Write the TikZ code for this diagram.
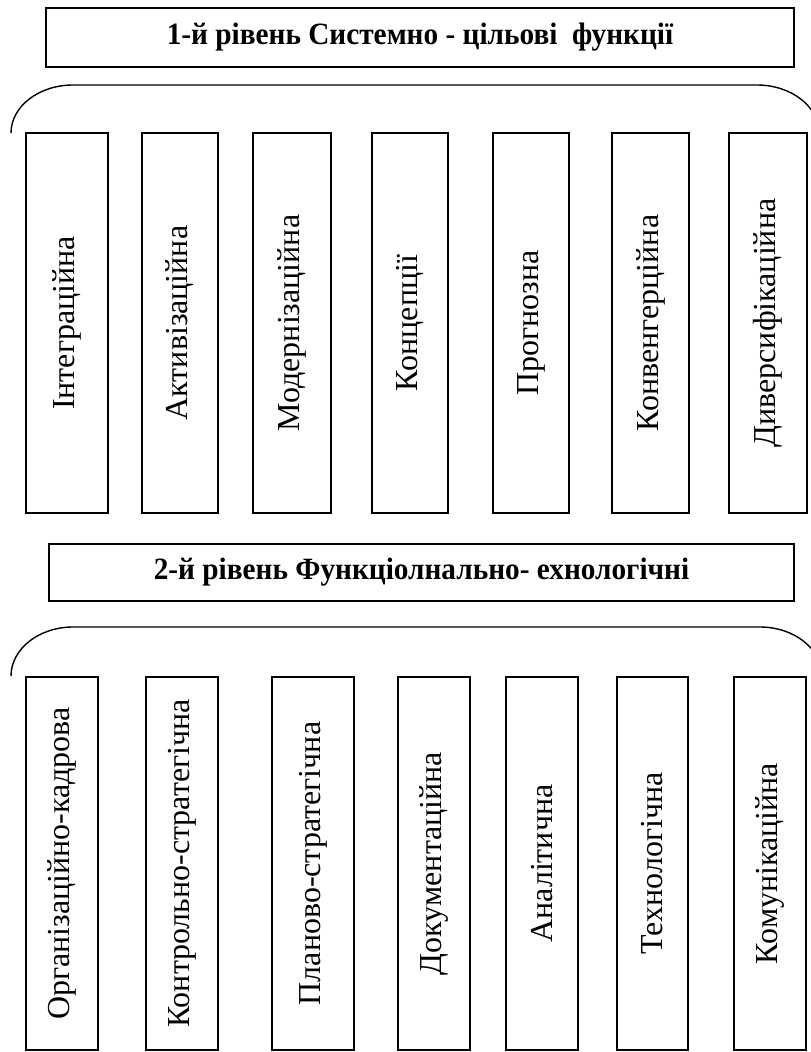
\documentclass[tikz,border=0pt]{standalone}
\usepackage{fontspec}
\setmainfont{Liberation Serif}
\usepackage{graphicx}
\usetikzlibrary{positioning}

\begin{document}
\begin{tikzpicture}[x=1pt,y=-1pt,
    levelbox/.style={draw,line width=1.4pt,inner sep=0pt,font=\bfseries\fontsize{31}{31}\selectfont},
    funcbox/.style={draw,line width=1.4pt,inner sep=0pt,rotate=90,font=\fontsize{32}{32}\selectfont},
    bracket/.style={line width=1.4pt,black}]
    \useasboundingbox (0,0) rectangle (811,1052);
    % Level 1
    \node[levelbox,minimum width=748pt,minimum height=59pt] (lvlA) at (420,37.5)
        {\scalebox{0.945}[1]{1-й рівень Системно - цільові \ функції}};
    \draw[bracket] (11,133) .. controls (11,106.5) and (38.8,85) .. (73,85) -- (757,85)
        .. controls (791.2,85) and (819,106.5) .. (819,133);
    \foreach \cx/\w/\txt [count=\i] in {67/82/Інтеграційна, 180/76/Активізаційна,
        292/78/Модернізаційна, 410/76/Концепції, 531/76/Прогнозна,
        650.5/77/Конвенгерційна, 768/78/Диверсифікаційна}
        \node[funcbox,minimum width=380pt,minimum height=\w pt] (fa\i) at (\cx,323) {\txt};
    % Level 2
    \node[levelbox,minimum width=745pt,minimum height=57pt] (lvlB) at (421.5,572.5)
        {\scalebox{0.945}[1]{2-й рівень Функціолнально- ехнологічні}};
    \draw[bracket] (11,676) .. controls (11,649) and (38.8,627) .. (73,627) -- (760,627)
        .. controls (794.2,627) and (822,649) .. (822,676);
    \foreach \cx/\w/\txt [count=\i] in {62/72/Організаційно-кадрова, 182/72/Контрольно-стратегічна,
        313/82/Планово-стратегічна, 434/72/Документаційна, 542/72/Аналітична,
        652.5/71/Технологічна, 770/72/Комунікаційна}
        \node[funcbox,minimum width=373pt,minimum height=\w pt] (fb\i) at (\cx,863.5) {\txt};
\end{tikzpicture}
\end{document}
